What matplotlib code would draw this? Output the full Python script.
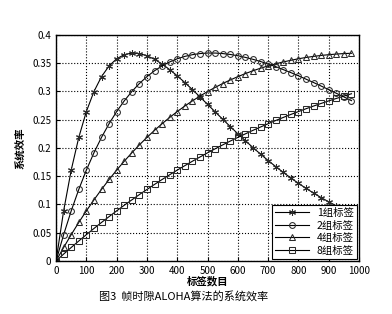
import matplotlib
matplotlib.use("Agg")
import matplotlib.pyplot as plt
import numpy as np

plt.rcParams['font.family'] = ['Noto Sans CJK SC', 'DejaVu Sans']

# 标签数目 (0..975, 每25一个点)
tags = list(range(0, 1000, 25))

eff_1 = [0, 0.0886, 0.1607, 0.2186, 0.2643, 0.2997, 0.3261, 0.3451, 0.3577, 0.3649,
         0.3678, 0.3669, 0.3630, 0.3567, 0.3484, 0.3385, 0.3275, 0.3156, 0.3031, 0.2902,
         0.2770, 0.2638, 0.2507, 0.2377, 0.2250, 0.2126, 0.2005, 0.1889, 0.1776, 0.1669,
         0.1566, 0.1467, 0.1373, 0.1284, 0.1200, 0.1120, 0.1045, 0.0974, 0.0908, 0.0845]
eff_2 = [0, 0.0465, 0.0886, 0.1265, 0.1607, 0.1913, 0.2186, 0.2428, 0.2643, 0.2832,
         0.2997, 0.3139, 0.3261, 0.3365, 0.3451, 0.3521, 0.3577, 0.3619, 0.3649, 0.3669,
         0.3678, 0.3678, 0.3669, 0.3653, 0.3630, 0.3601, 0.3567, 0.3528, 0.3484, 0.3437,
         0.3385, 0.3332, 0.3275, 0.3216, 0.3156, 0.3094, 0.3031, 0.2966, 0.2902, 0.2836]
eff_4 = [0, 0.0238, 0.0465, 0.0681, 0.0886, 0.1080, 0.1265, 0.1441, 0.1607, 0.1764,
         0.1913, 0.2053, 0.2186, 0.2311, 0.2428, 0.2539, 0.2643, 0.2741, 0.2832, 0.2917,
         0.2997, 0.3070, 0.3139, 0.3202, 0.3261, 0.3315, 0.3365, 0.3410, 0.3451, 0.3488,
         0.3521, 0.3550, 0.3577, 0.3600, 0.3619, 0.3636, 0.3649, 0.3660, 0.3669, 0.3674]
eff_8 = [0, 0.0121, 0.0238, 0.0353, 0.0465, 0.0574, 0.0681, 0.0784, 0.0886, 0.0985,
         0.1080, 0.1174, 0.1265, 0.1354, 0.1441, 0.1525, 0.1607, 0.1686, 0.1764, 0.1839,
         0.1913, 0.1984, 0.2053, 0.2121, 0.2186, 0.2249, 0.2311, 0.2370, 0.2428, 0.2485,
         0.2539, 0.2592, 0.2643, 0.2693, 0.2741, 0.2787, 0.2832, 0.2875, 0.2917, 0.2958]

labels = ['1组标签', '2组标签', '4组标签', '8组标签']
x_ticks = list(range(0, 1001, 100))
y_ticks = [0, 0.05, 0.1, 0.15, 0.2, 0.25, 0.3, 0.35, 0.4]

fig = plt.figure(figsize=(3.92, 3.14), dpi=100)
ax = fig.add_axes([0.143, 0.169, 0.773, 0.720])

styles = [((6, 2, 0), 5), ('o', 4.2), ('^', 4.6), ('s', 4.2)]
for data, lab, (mk, ms) in zip([eff_1, eff_2, eff_4, eff_8], labels, styles):
    ax.plot(tags, data, '-', color='black', linewidth=0.8, marker=mk,
            markersize=ms, markerfacecolor='none', markeredgecolor='#2a2a2a',
            markeredgewidth=0.75, label=lab)

ax.set_xlim(0, 1000)
ax.set_ylim(0, 0.4)
ax.set_xticks(x_ticks)
ax.set_yticks(y_ticks)
ax.set_yticklabels(['0', '0.05', '0.1', '0.15', '0.2', '0.25', '0.3', '0.35', '0.4'])
ax.tick_params(direction='in', labelsize=7, length=3, width=0.8)
ax.grid(True, linestyle=':', color='black', linewidth=0.8)
for s in ax.spines.values():
    s.set_linewidth(1.0)

ax.set_xlabel('标签数目', fontsize=7.5, fontweight='bold', labelpad=0)
ax.set_ylabel('系统效率', fontsize=7.5, fontweight='bold', labelpad=4)

leg = ax.legend(loc='lower right', fontsize=7.5, handlelength=3.2,
                fancybox=False, framealpha=1, edgecolor='black',
                borderpad=0.3, labelspacing=0.25, borderaxespad=0.2)
leg.get_frame().set_linewidth(0.8)

fig.text(0.253, 0.057, '图3  帧时隙ALOHA算法的系统效率', fontsize=8,
         ha='left', va='center')

fig.savefig('out.png', dpi=100)
